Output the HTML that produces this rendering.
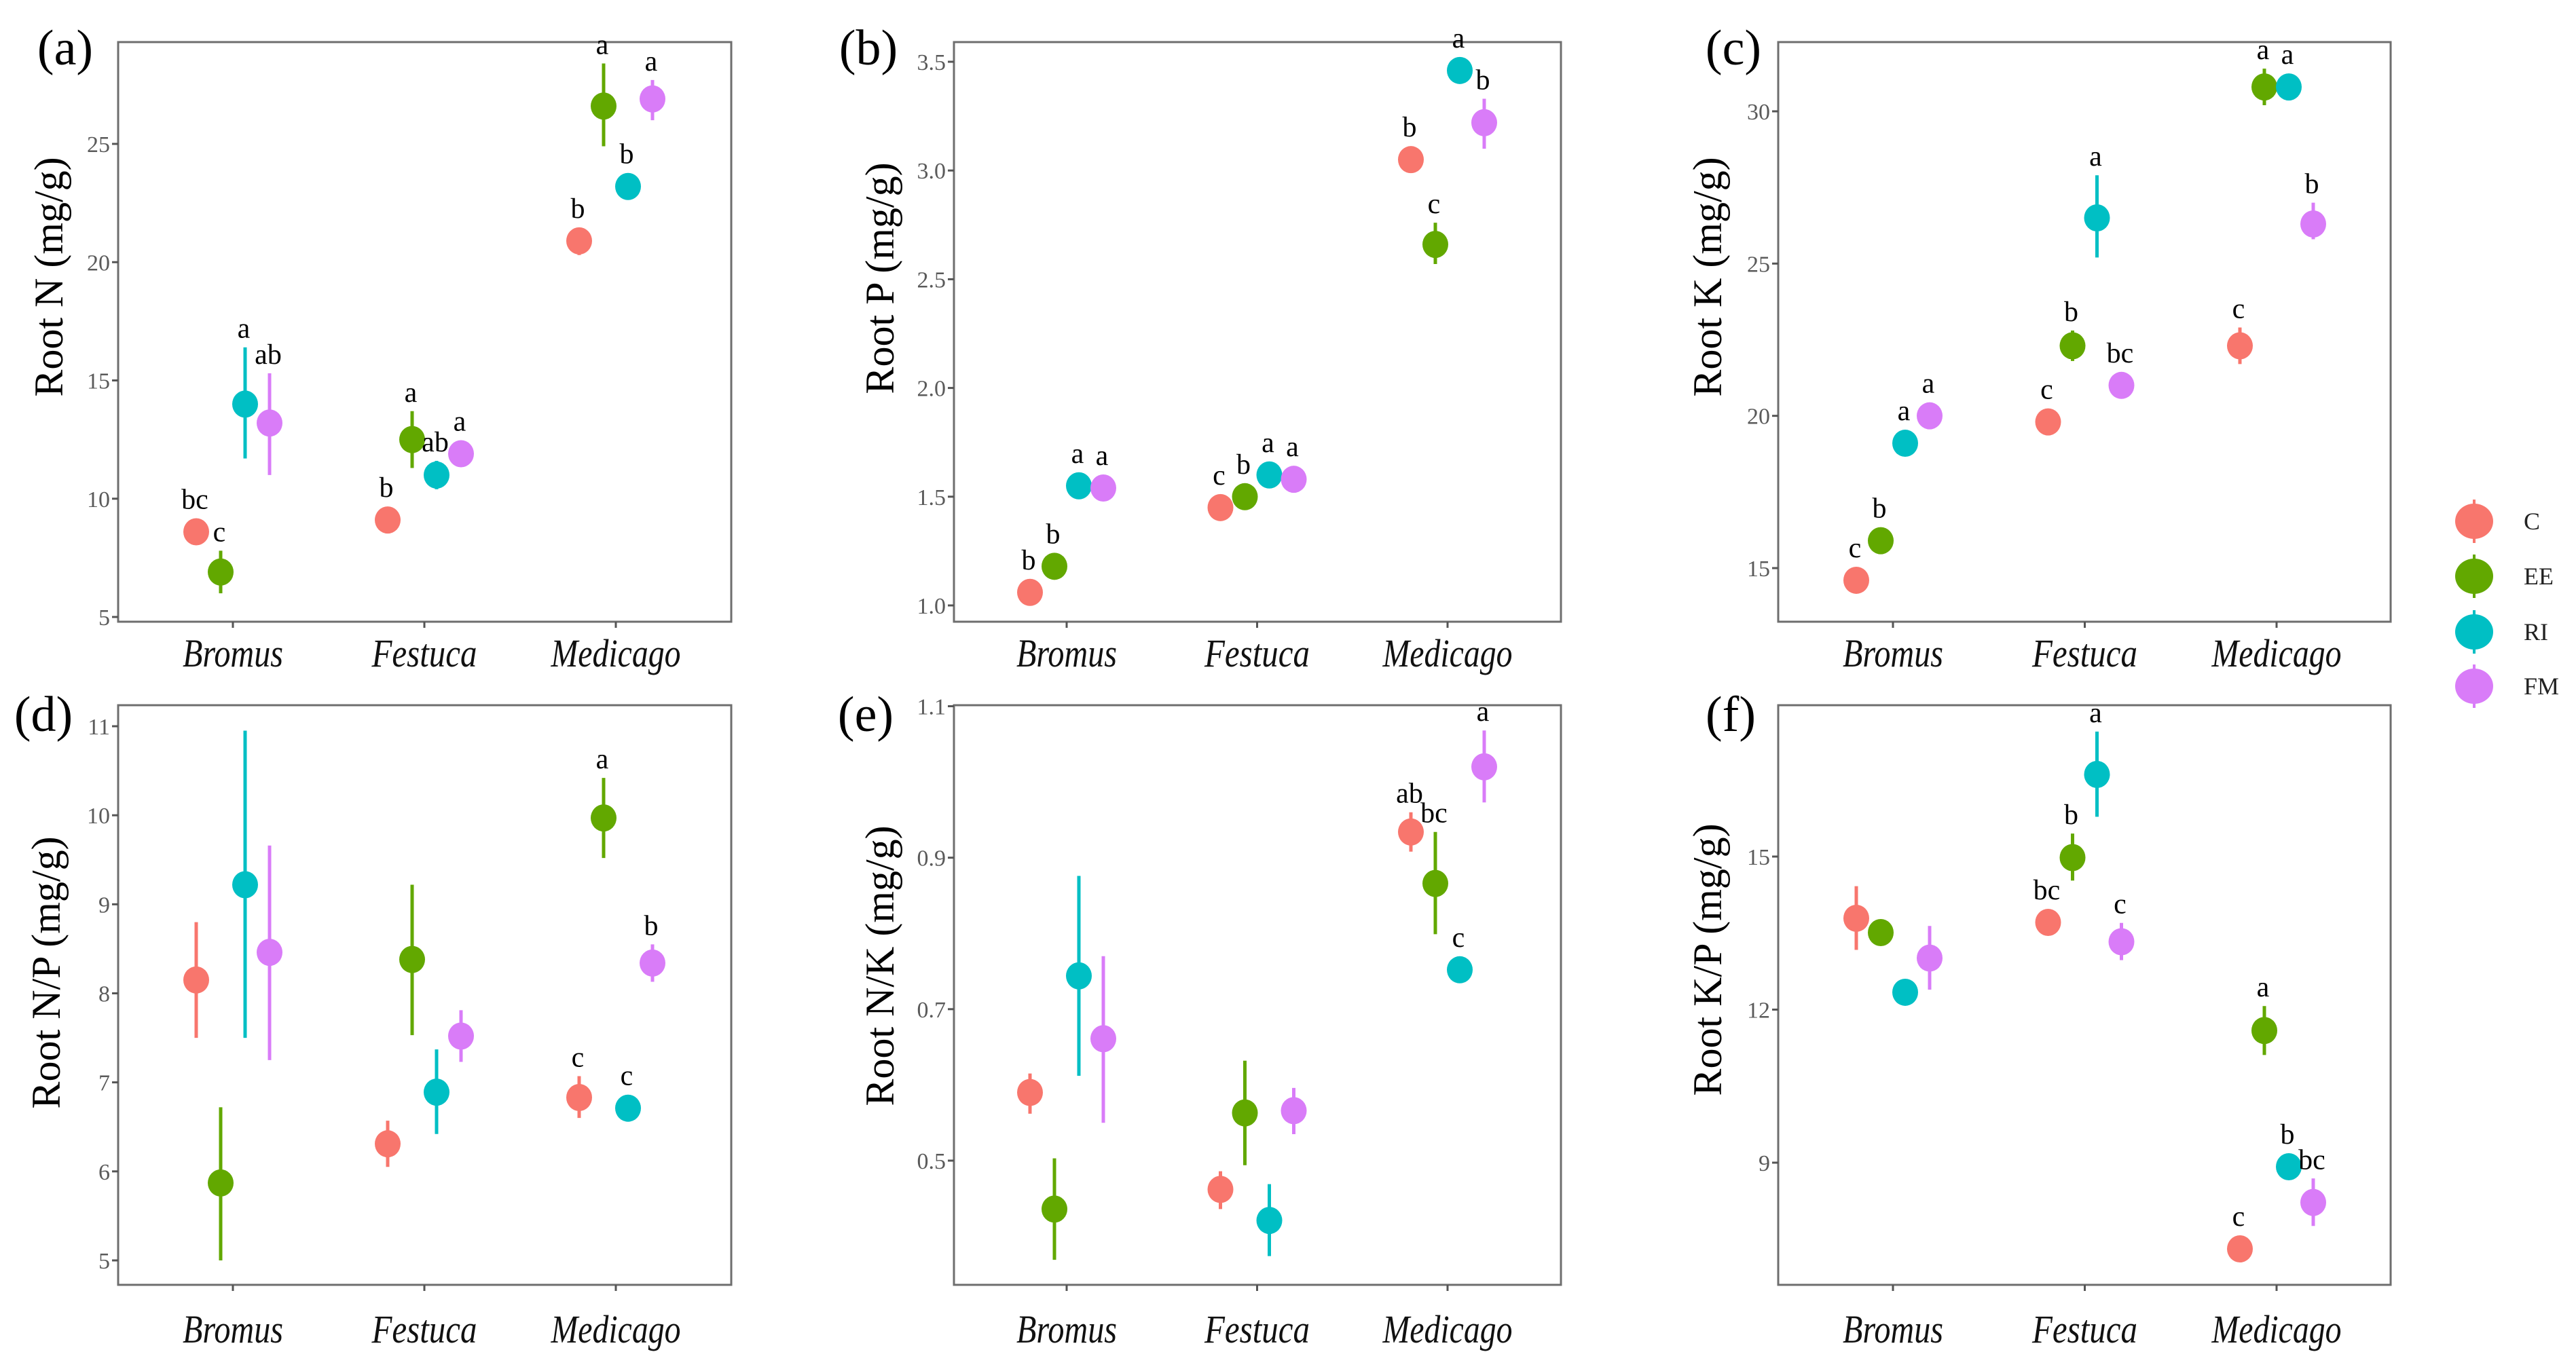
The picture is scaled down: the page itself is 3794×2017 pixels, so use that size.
<!DOCTYPE html>
<html>
<head>
<meta charset="utf-8">
<style>
html,body{margin:0;padding:0;background:#fff;}
svg{display:block;}
svg text{font-family:"Liberation Serif","DejaVu Serif",serif;}
</style>
</head>
<body>
<svg id="fig" xmlns="http://www.w3.org/2000/svg" width="3794" height="2017" viewBox="0 0 3794 2017"></svg>
<script>
const categories = ['Bromus','Festuca','Medicago'];
const treatments = ['C','EE','RI','FM'];

// Root N
const N_mean = [[8.6,9.1,20.9],[6.9,12.5,26.6],[14.0,11.0,23.2],[13.2,11.9,26.9]];
const N_lo   = [[8.3,8.8,20.3],[6.0,11.3,24.9],[11.7,10.4,22.9],[11.0,11.6,26.0]];
const N_hi   = [[8.9,9.4,21.4],[7.8,13.7,28.4],[16.4,11.6,23.5],[15.3,12.2,27.7]];
const N_let  = [['bc','b','b'],['c','a','a'],['a','ab','b'],['ab','a','a']];
const N_ticks = [5,10,15,20,25];
const N_tickLabels = ['5','10','15','20','25'];

// Root P
const P_mean = [[1.06,1.45,3.05],[1.18,1.50,2.66],[1.55,1.60,3.46],[1.54,1.58,3.22]];
const P_lo   = [[1.04,1.43,3.03],[1.16,1.48,2.57],[1.53,1.58,3.44],[1.52,1.56,3.10]];
const P_hi   = [[1.08,1.47,3.07],[1.20,1.52,2.76],[1.57,1.62,3.48],[1.56,1.60,3.33]];
const P_let  = [['b','c','b'],['b','b','c'],['a','a','a'],['a','a','b']];
const P_ticks = [1.0,1.5,2.0,2.5,3.0,3.5];
const P_tickLabels = ['1.0','1.5','2.0','2.5','3.0','3.5'];

// Root K
const K_mean = [[14.6,19.8,22.3],[15.9,22.3,30.8],[19.1,26.5,30.8],[20.0,21.0,26.3]];
const K_lo   = [[14.4,19.6,21.7],[15.7,21.8,30.2],[18.9,25.2,30.6],[19.8,20.8,25.8]];
const K_hi   = [[14.8,20.0,22.9],[16.1,22.8,31.4],[19.3,27.9,31.0],[20.2,21.2,27.0]];
const K_let  = [['c','c','c'],['b','b','a'],['a','a','a'],['a','bc','b']];
const K_ticks = [15,20,25,30];
const K_tickLabels = ['15','20','25','30'];

// Root N/P
const NP_mean = [[8.15,6.31,6.83],[5.87,8.38,9.97],[9.22,6.89,6.71],[8.46,7.52,8.34]];
const NP_lo   = [[7.5,6.05,6.6],[5.0,7.53,9.52],[7.5,6.42,6.6],[7.25,7.23,8.13]];
const NP_hi   = [[8.8,6.57,7.07],[6.72,9.22,10.42],[10.95,7.37,6.82],[9.66,7.81,8.55]];
const NP_let  = [['','','c'],['','','a'],['','','c'],['','','b']];
const NP_ticks = [5,6,7,8,9,10,11];
const NP_tickLabels = ['5','6','7','8','9','10','11'];

// Root N/K
const NK_mean = [[0.590,0.462,0.934],[0.436,0.563,0.866],[0.744,0.421,0.752],[0.661,0.566,1.020]];
const NK_lo   = [[0.562,0.436,0.908],[0.369,0.494,0.799],[0.612,0.374,0.742],[0.550,0.535,0.973]];
const NK_hi   = [[0.615,0.486,0.960],[0.503,0.632,0.934],[0.876,0.469,0.762],[0.770,0.596,1.068]];
const NK_let  = [['','','ab'],['','','bc'],['','','c'],['','','a']];
const NK_ticks = [0.5,0.7,0.9,1.1];
const NK_tickLabels = ['0.5','0.7','0.9','1.1'];

// Root K/P
const KP_mean = [[13.79,13.71,7.31],[13.51,14.98,11.59],[12.34,16.61,8.92],[13.01,13.33,8.22]];
const KP_lo   = [[13.17,13.6,7.2],[13.4,14.53,11.11],[12.2,15.78,8.8],[12.39,12.97,7.76]];
const KP_hi   = [[14.42,13.8,7.4],[13.6,15.45,12.07],[12.5,17.45,9.0],[13.64,13.70,8.69]];
const KP_let  = [['','bc','c'],['','b','a'],['','a','b'],['','c','bc']];
const KP_ticks = [9,12,15];
const KP_tickLabels = ['9','12','15'];

const colors = ['#F8766D','#62A800','#00BFC4','#D97CF8'];
const catWidths = [148,155,191];
const NS = 'http://www.w3.org/2000/svg';
const svg = document.getElementById('fig');

function mk(tag, attrs, parent, text){
  const e = document.createElementNS(NS, tag);
  for (const k in attrs) e.setAttribute(k, attrs[k]);
  if (text !== undefined) e.textContent = text;
  (parent || svg).appendChild(e);
  return e;
}

function drawPanel(p){
  const g = mk('g', {});
  
  
  const y = v => p.p1 + (v - p.v1) * (p.p2 - p.p1) / (p.v2 - p.v1);
  const xCat = i => p.cx[0] + i * (p.cx[2] - p.cx[0]) / 2;
  const dodge = [-54, -18, 18, 54];
  const box = mk('rect', {x:p.x0, y:p.y0, width:p.x1-p.x0, height:p.y1-p.y0, fill:'none', stroke:'#6e6e6e', 'stroke-width':3}, g);
  
  
  p.ticks.forEach((t, i) => {
    const ty = y(t);
    const tk = mk('line', {x1:p.x0-9, x2:p.x0, y1:ty, y2:ty, stroke:'#555', 'stroke-width':3}, g);
    
    
    const tl = mk('text', {x:p.x0-12, y:ty+12, 'text-anchor':'end', 'font-size':34, fill:'#5a5a5a'}, g, p.tickLabels[i]);
    
    
  });
  categories.forEach((c, i) => {
    const cx = xCat(i);
    const tk = mk('line', {x1:cx, x2:cx, y1:p.y1, y2:p.y1+9, stroke:'#555', 'stroke-width':3}, g);
    
    
    const tl = mk('text', {x:cx, y:p.labelY, 'text-anchor':'middle', 'font-style':'italic', 'font-size':58, fill:'#111', textLength:catWidths[i], lengthAdjust:'spacingAndGlyphs'}, g, c);
    
    
  });
  const yt = mk('text', {x:0, y:0, transform:'translate(' + p.tx + ',' + p.ty + ') rotate(-90)', 'text-anchor':'middle', 'font-size':60, fill:'#000'}, g, p.title);
  
  
  const pl = mk('text', {x:p.lx, y:p.ly, 'text-anchor':'middle', 'font-size':74, fill:'#000'}, g, '(' + p.id + ')');
  
  
  treatments.forEach((t, s) => {
    categories.forEach((c, i) => {
      const px = xCat(i) + dodge[s];
      const py = y(p.mean[s][i]);
      const ylo = y(p.lo[s][i]), yhi = y(p.hi[s][i]);
      const eb = mk('line', {x1:px, x2:px, y1:ylo, y2:yhi, stroke:colors[s], 'stroke-width':5}, g);
      
      
      const pt = mk('ellipse', {cx:px, cy:py, rx:19, ry:20, fill:colors[s]}, g);
      
      
      const lab = p.letters[s][i];
      if (lab) {
        const top = Math.min(yhi, py - 20);
        const lt = mk('text', {x:px-2, y:top-14, 'text-anchor':'middle', 'font-size':42, fill:'#000'}, g, lab);
        
        
      }
    });
  });
}

const topRow = {y0:62, y1:916, labelY:982};
const botRow = {y0:1039, y1:1893, labelY:1978};
const colA = {x0:174, x1:1077, cx:[343,624,907]};
const colB = {x0:1405, x1:2299, cx:[1571,1852,2132]};
const colC = {x0:2619, x1:3521, cx:[2788,3070,3353]};

drawPanel(Object.assign({id:'a', title:'Root N (mg/g)', tx:92, ty:408, lx:96, ly:95, v1:25, p1:212, v2:5, p2:909,
  ticks:N_ticks, tickLabels:N_tickLabels, mean:N_mean, lo:N_lo, hi:N_hi, letters:N_let}, colA, topRow));
drawPanel(Object.assign({id:'b', title:'Root P (mg/g)', tx:1316, ty:410, lx:1279, ly:95, v1:3.5, p1:91, v2:1.0, p2:892,
  ticks:P_ticks, tickLabels:P_tickLabels, mean:P_mean, lo:P_lo, hi:P_hi, letters:P_let}, colB, topRow));
drawPanel(Object.assign({id:'c', title:'Root K (mg/g)', tx:2535, ty:408, lx:2553, ly:95, v1:30, p1:164, v2:15, p2:837,
  ticks:K_ticks, tickLabels:K_tickLabels, mean:K_mean, lo:K_lo, hi:K_hi, letters:K_let}, colC, topRow));
drawPanel(Object.assign({id:'d', title:'Root N/P (mg/g)', tx:88, ty:1433, lx:64, ly:1077, v1:11, p1:1070, v2:5, p2:1857,
  ticks:NP_ticks, tickLabels:NP_tickLabels, mean:NP_mean, lo:NP_lo, hi:NP_hi, letters:NP_let}, colA, botRow));
drawPanel(Object.assign({id:'e', title:'Root N/K (mg/g)', tx:1316, ty:1423, lx:1275, ly:1077, v1:1.1, p1:1040.5, v2:0.5, p2:1710,
  ticks:NK_ticks, tickLabels:NK_tickLabels, mean:NK_mean, lo:NK_lo, hi:NK_hi, letters:NK_let}, colB, botRow));
drawPanel(Object.assign({id:'f', title:'Root K/P (mg/g)', tx:2535, ty:1414, lx:2549, ly:1077, v1:15, p1:1262, v2:9, p2:1713,
  ticks:KP_ticks, tickLabels:KP_tickLabels, mean:KP_mean, lo:KP_lo, hi:KP_hi, letters:KP_let}, colC, botRow));

const legendY = [768, 849, 931, 1011];
const lg = mk('g', {});


treatments.forEach((t, s) => {
  const ln = mk('line', {x1:3644, x2:3644, y1:legendY[s]-32, y2:legendY[s]+32, stroke:colors[s], 'stroke-width':4}, lg);
  
  
  const c = mk('ellipse', {cx:3644, cy:legendY[s], rx:28, ry:26, fill:colors[s]}, lg);
  
  
  const tx = mk('text', {x:3717, y:legendY[s]+12, 'font-size':36, fill:'#222'}, lg, t);
  
  
});
</script>
</body>
</html>
